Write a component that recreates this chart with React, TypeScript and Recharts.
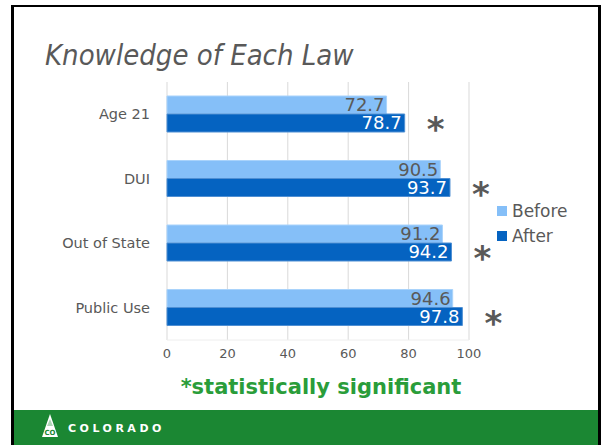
import { BarChart, Bar, XAxis, YAxis, CartesianGrid, Legend, LabelList } from "recharts";

const categories = ["Age 21", "DUI", "Out of State", "Public Use"];
const beforeValues = [72.7, 90.5, 91.2, 94.6];
const afterValues = [78.7, 93.7, 94.2, 97.8];
const significant = [true, true, true, true];
const xTicks = [0, 20, 40, 60, 80, 100];

const FONT = "'DejaVu Sans', sans-serif";
const GREY = "#595959";
const BEFORE = "#85bff8";
const AFTER = "#0563c1";

const data = categories.map((name, i) => ({
  name,
  before: beforeValues[i],
  after: afterValues[i],
  sig: significant[i] ? "*" : "",
}));

function Star(props: any) {
  const box = props.viewBox ?? props;
  const { x, y, width, height } = box;
  if (!props.value) return null;
  const fs = 34;
  return (
    <text
      x={x + width + 31}
      y={y + height / 2 + fs * 0.54}
      textAnchor="middle"
      fontSize={fs}
      fontWeight="bold"
      fontFamily={FONT}
      fill={GREY}
    >
      {props.value}
    </text>
  );
}

function LegendBox() {
  const items = [
    { label: "Before", color: BEFORE },
    { label: "After", color: AFTER },
  ];
  return (
    <div style={{ fontFamily: FONT, fontSize: 17, color: GREY }}>
      {items.map((it) => (
        <div key={it.label} style={{ display: "flex", alignItems: "center", height: 25 }}>
          <span style={{ width: 10, height: 10, background: it.color, marginRight: 5 }} />
          {it.label}
        </div>
      ))}
    </div>
  );
}

export default function App() {
  return (
    <div style={{ position: "absolute", left: 0, top: 0, width: 602, height: 445, background: "#ffffff", overflow: "hidden" }}>
      <div
        style={{
          position: "absolute",
          left: 11,
          top: 5,
          width: 590,
          height: 440,
          boxSizing: "border-box",
          borderLeft: "3px solid #000",
          borderTop: "2px solid #000",
          borderRight: "3px solid #000",
          background: "#fff",
        }}
      />
      <div style={{ position: "absolute", left: 0, top: 0 }}>
        <BarChart
          width={602}
          height={445}
          data={data}
          layout="vertical"
          margin={{ top: 82, right: 133, bottom: 75, left: 0 }}
          barSize={18}
          barGap={0}
        >
          <CartesianGrid horizontal={false} stroke="#d9d9d9" />
          <XAxis
            type="number"
            domain={[0, 100]}
            ticks={xTicks}
            height={30}
            tickLine={false}
            tickSize={0}
            tickMargin={9}
            axisLine={{ stroke: "#eeeeee" }}
            tick={{ fontSize: 13, fill: GREY, fontFamily: FONT }}
          />
          <YAxis
            type="category"
            dataKey="name"
            width={167}
            tickLine={false}
            tickSize={0}
            tickMargin={17}
            axisLine={false}
            tick={{ fontSize: 14.5, fill: GREY, fontFamily: FONT }}
          />
          <Legend
            verticalAlign="middle"
            layout="horizontal"
            content={() => <LegendBox />}
            wrapperStyle={{ left: 497, top: 198, width: 100, height: 50 }}
          />
          <Bar dataKey="before" name="Before" fill={BEFORE} stroke="#a9d3fb" strokeWidth={1} isAnimationActive={false}>
            <LabelList dataKey="before" position="insideRight" offset={2} fill={GREY} fontSize={18} fontFamily={FONT} />
          </Bar>
          <Bar dataKey="after" name="After" fill={AFTER} stroke="#4f8fd3" strokeWidth={1} isAnimationActive={false}>
            <LabelList dataKey="after" position="insideRight" offset={3} fill="#ffffff" fontSize={18} fontFamily={FONT} />
            <LabelList dataKey="sig" content={Star} />
          </Bar>
        </BarChart>
      </div>
      <svg width={602} height={445} style={{ position: "absolute", left: 0, top: 0, pointerEvents: "none" }}>
        <text x={45} y={65} fontFamily="'DejaVu Sans Condensed', 'DejaVu Sans', sans-serif" fontStyle="italic" fontSize={29} fill={GREY}>
          Knowledge of Each Law
        </text>
        <text x={321} y={394} textAnchor="middle" fontFamily={FONT} fontWeight="bold" fontSize={21} fill="#2a9d3a">
          *statistically significant
        </text>
        <rect x={14} y={410} width={584} height={35} fill="#1b8733" />
        <polygon points="50,414 42,437 58,437" fill="#ffffff" />
        <polygon points="50,419 47,426 53,426" fill="#1b8733" opacity={0.35} />
        <text x={50} y={435} textAnchor="middle" fontFamily={FONT} fontWeight="bold" fontSize={7} fill="#1b8733">
          CO
        </text>
        <text x={68} y={432} fontFamily={FONT} fontWeight="bold" fontSize={11} letterSpacing={3.5} fill="#ffffff">
          COLORADO
        </text>
      </svg>
    </div>
  );
}
